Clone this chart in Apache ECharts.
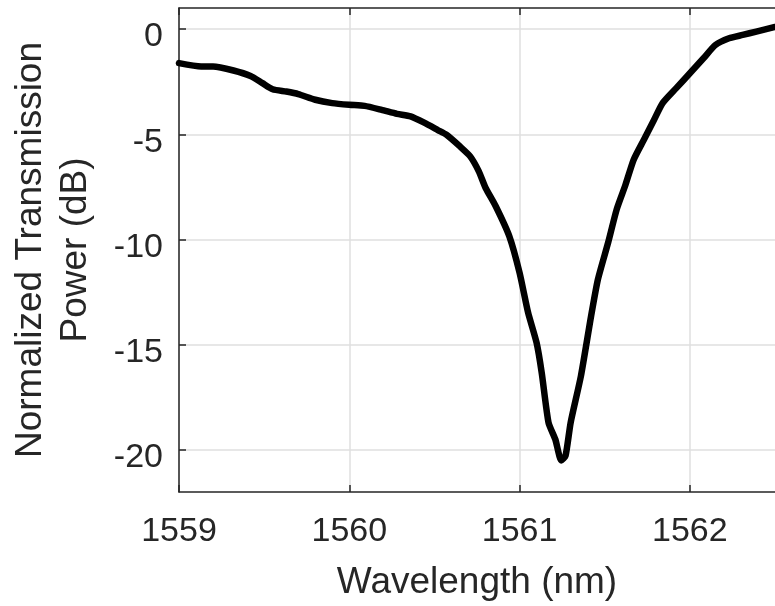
<!DOCTYPE html>
<html>
<head>
<meta charset="utf-8">
<script src="https://cdn.jsdelivr.net/npm/echarts@6/dist/echarts.min.js"></script>
<style>html,body{margin:0;padding:0;background:#fff}#c{width:775px;height:606px}</style>
</head>
<body>
<div id="c"></div>
<script>
var wavelength = [1559.0, 1559.13, 1559.2, 1559.32, 1559.42, 1559.49, 1559.55, 1559.63, 1559.70, 1559.80, 1559.90, 1560.0, 1560.09, 1560.19, 1560.28, 1560.36, 1560.44, 1560.52, 1560.57, 1560.65, 1560.71, 1560.76, 1560.80, 1560.86, 1560.94, 1561.0, 1561.05, 1561.10, 1561.13, 1561.17, 1561.21, 1561.245, 1561.27, 1561.30, 1561.36, 1561.42, 1561.46, 1561.52, 1561.57, 1561.62, 1561.67, 1561.73, 1561.79, 1561.84, 1561.92, 1562.0, 1562.08, 1562.15, 1562.23, 1562.31, 1562.39, 1562.5];
var power = [-1.62, -1.78, -1.78, -1.97, -2.23, -2.57, -2.86, -2.97, -3.09, -3.36, -3.52, -3.60, -3.65, -3.84, -4.03, -4.15, -4.45, -4.80, -5.02, -5.58, -6.05, -6.75, -7.54, -8.42, -9.85, -11.58, -13.47, -14.91, -16.33, -18.7, -19.5, -20.5, -20.28, -18.7, -16.5, -13.64, -11.9, -10.15, -8.58, -7.45, -6.21, -5.26, -4.31, -3.52, -2.81, -2.1, -1.39, -0.76, -0.44, -0.28, -0.12, 0.1];
var xTicks = [1559, 1560, 1561, 1562];
var yTicks = [-20, -15, -10, -5, 0];

var axisColor = '#262626';
var gridColor = '#dfdfdf';
var font = 'Liberation Sans, Arial, Helvetica, sans-serif';
var chart = echarts.init(document.getElementById('c'), null, {renderer: 'canvas'});
var pts = wavelength.map(function (w, i) { return [w, power[i]]; });
chart.setOption({
  animation: false,
  backgroundColor: '#ffffff',
  grid: {left: 178, top: 8, width: 605.5, height: 486, containLabel: false},
  xAxis: [{
    type: 'value', min: 1559, max: 1562.5, position: 'bottom',
    name: 'Wavelength (nm)', nameLocation: 'middle', nameGap: 72,
    nameTextStyle: {color: axisColor, fontFamily: font, fontSize: 37},
    axisLine: {show: true, onZero: false, lineStyle: {color: axisColor, width: 1.5}},
    axisTick: {show: true, inside: true, length: 7, customValues: xTicks, lineStyle: {color: axisColor, width: 1.5}},
    axisLabel: {show: true, customValues: xTicks, margin: 23, color: axisColor, fontFamily: font, fontSize: 34,
      formatter: function (v) { return String(v); }},
    splitLine: {show: true, lineStyle: {color: gridColor, width: 1.5}}
  }, {
    type: 'value', min: 1559, max: 1562.5, position: 'top',
    axisLine: {show: true, onZero: false, lineStyle: {color: axisColor, width: 1.5}},
    axisTick: {show: true, inside: true, length: 7, customValues: xTicks, lineStyle: {color: axisColor, width: 1.5}},
    axisLabel: {show: false},
    splitLine: {show: false}
  }],
  yAxis: [{
    type: 'value', min: -22, max: 1,
    name: 'Normalized Transmission\nPower (dB)', nameLocation: 'middle', nameGap: 81,
    nameTextStyle: {color: axisColor, fontFamily: font, fontSize: 37, lineHeight: 45},
    axisLine: {show: true, onZero: false, lineStyle: {color: axisColor, width: 1.5}},
    axisTick: {show: true, inside: true, length: 7, customValues: yTicks, lineStyle: {color: axisColor, width: 1.5}},
    axisLabel: {show: true, customValues: yTicks, margin: 16, color: axisColor, fontFamily: font, fontSize: 34,
      formatter: function (v) { return '{v|' + v + '}'; },
      rich: {v: {color: axisColor, fontFamily: font, fontSize: 34, padding: [16, 0, 0, 0]}}},
    splitLine: {show: true, lineStyle: {color: gridColor, width: 1.5}}
  }],
  series: [{
    type: 'line', data: pts, xAxisIndex: 0, yAxisIndex: 0,
    showSymbol: false, smooth: 0.2, clip: true,
    lineStyle: {color: '#000000', width: 6.5, join: 'round', cap: 'round'}
  }]
});
</script>
</body>
</html>
